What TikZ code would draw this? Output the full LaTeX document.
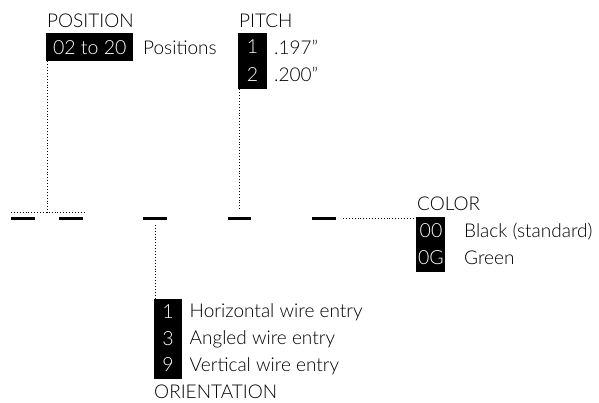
\documentclass[tikz,border=0pt]{standalone}
\usepackage{fontspec}
\setmainfont{Lato}[UprightFont=* Light]
\begin{document}
\begin{tikzpicture}[x=1pt,y=-1pt,
  txt/.style={anchor=base west,inner sep=0pt,font=\fontsize{19}{22}\selectfont},
  num/.style={anchor=center,inner sep=0pt,text=white,font=\fontsize{19.5}{22}\selectfont},
  blk/.style={fill=black,draw=none,inner sep=0pt,anchor=north west},
  bar/.style={line width=2.8pt},
  dots/.style={dash pattern=on 0.9pt off 2pt,line width=0.9pt}]
\useasboundingbox (0,0) rectangle (599,403);
% bars
\coordinate (b1l) at (11,218.3); \coordinate (b1r) at (35,218.3);
\coordinate (b2l) at (59,218.3); \coordinate (b2r) at (83,218.3);
\coordinate (b3l) at (143,218.3); \coordinate (b3r) at (167,218.3);
\coordinate (b4l) at (228,218.3); \coordinate (b4r) at (251,218.3);
\coordinate (b5l) at (312,218.3); \coordinate (b5r) at (336,218.3);
\draw[bar] (b1l) -- (b1r);
\draw[bar] (b2l) -- (b2r);
\draw[bar] (b3l) -- (b3r);
\draw[bar] (b4l) -- (b4r);
\draw[bar] (b5l) -- (b5r);
% POSITION
\node[txt] (postitle) at (47,28) {POSITION};
\node[blk,minimum width=87pt,minimum height=28pt] (posbox) at (46,33) {};
\node[num] (posnum) at (posbox.center) {02 to 20};
\node[txt] (poslbl) at (143,54.5) {Positions};
\coordinate (pj) at (47.7,212.3);
\coordinate (pl) at (11,212.3);
\coordinate (pr) at (85,212.3);
\draw[dots] (posbox.south west -| pj) -- (pj);
\draw[dots] (pl) -- (pr);
% PITCH
\node[txt] (pittitle) at (239,28) {PITCH};
\node[blk,minimum width=29pt,minimum height=56pt] (pitbox) at (238,33) {};
\node[num] (pit1) at (252.5,47) {1};
\node[num] (pit2) at (252.5,75) {2};
\node[txt] (pitl1) at (274,54.5) {.197”};
\node[txt] (pitl2) at (274,81.5) {.200”};
\coordinate (pitj) at (239,210);
\draw[dots] (pitbox.south west -| pitj) -- (pitj);
% COLOR
\node[txt] (coltitle) at (417,210.5) {COLOR};
\node[blk,minimum width=29pt,minimum height=55pt] (colbox) at (416,216.5) {};
\node[num] (col1) at (431,230.5) {00};
\node[num] (col2) at (431,257.5) {0G};
\node[txt] (coll1) at (464,237) {Black (standard)};
\node[txt] (coll2) at (464,264) {Green};
\coordinate (colj) at (343,218.3);
\draw[dots] (colj) -- (colbox.north west |- colj);
% ORIENTATION
\node[blk,minimum width=28pt,minimum height=80pt] (oribox) at (154,298.3) {};
\node[num] (ori1) at (168,311.5) {1};
\node[num] (ori2) at (168,338.3) {3};
\node[num] (ori3) at (168,365) {9};
\node[txt] (oril1) at (189.5,317.8) {Horizontal wire entry};
\node[txt] (oril2) at (189.5,344.6) {Angled wire entry};
\node[txt] (oril3) at (189.5,371.4) {Vertical wire entry};
\node[txt] (orititle) at (154,398.5) {ORIENTATION};
\coordinate (orij) at (155,225);
\draw[dots] (orij) -- (oribox.north west -| orij);
\end{tikzpicture}
\end{document}
